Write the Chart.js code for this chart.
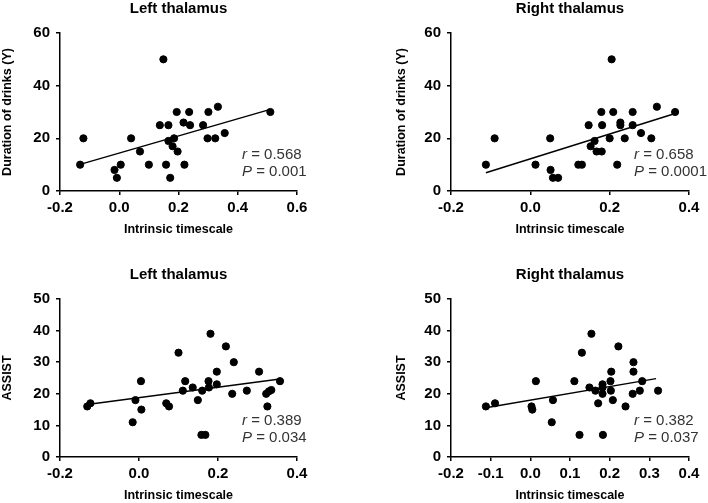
<!DOCTYPE html>
<html>
<head>
<meta charset="utf-8">
<script src="https://cdn.jsdelivr.net/npm/chart.js@4"></script>
<style>
  html, body { margin: 0; padding: 0; background: #fff; }
  body { width: 708px; height: 503px; overflow: hidden; position: relative; }
  canvas { position: absolute; }
</style>
</head>
<body>
<canvas id="c1" width="354" height="250" style="left:0;top:0"></canvas>
<canvas id="c2" width="354" height="250" style="left:354px;top:0"></canvas>
<canvas id="c3" width="354" height="250" style="left:0;top:266px"></canvas>
<canvas id="c4" width="354" height="250" style="left:354px;top:266px"></canvas>
<script>
// values
const leftDurX = [-0.132, -0.121, -0.016, -0.008, 0.005, 0.040, 0.070, 0.100, 0.137, 0.149, 0.158, 0.166, 0.166, 0.172, 0.180, 0.185, 0.194, 0.197, 0.217, 0.220, 0.236, 0.239, 0.283, 0.298, 0.301, 0.324, 0.333, 0.356, 0.510];
const leftDurY = [10, 20, 8, 5, 10, 20, 15, 10, 25, 50, 10, 25, 19, 5, 17, 20, 30, 15, 26, 10, 30, 25, 25, 20, 30, 20, 32, 22, 30];
const leftDurFitX = [-0.132, 0.510];
const leftDurFitY = [10.1, 31.0];

const rightDurX = [-0.112, -0.090, 0.013, 0.050, 0.051, 0.057, 0.070, 0.121, 0.130, 0.147, 0.152, 0.162, 0.167, 0.180, 0.179, 0.181, 0.200, 0.205, 0.209, 0.219, 0.227, 0.227, 0.238, 0.258, 0.258, 0.279, 0.305, 0.319, 0.365];
const rightDurY = [10, 20, 10, 20, 8, 5, 5, 10, 10, 25, 17, 19, 15, 15, 30, 25, 20, 50, 30, 10, 26, 25, 20, 30, 25, 22, 20, 32, 30];
const rightDurFitX = [-0.112, 0.365];
const rightDurFitY = [6.9, 29.4];

const leftAssistX = [-0.131, -0.123, -0.016, -0.009, 0.005, 0.006, 0.069, 0.076, 0.100, 0.111, 0.117, 0.136, 0.149, 0.158, 0.168, 0.160, 0.176, 0.177, 0.181, 0.197, 0.197, 0.220, 0.236, 0.240, 0.273, 0.304, 0.322, 0.325, 0.329, 0.335, 0.357];
const leftAssistY = [16, 17, 11, 18, 24, 15, 17, 16, 33, 21, 24, 22, 18, 7, 7, 21, 24, 22, 39, 27, 23, 35, 20, 30, 21, 27, 20, 16, 20.8, 21.2, 24];
const leftAssistFitX = [-0.131, 0.357];
const leftAssistFitY = [16.6, 24.7];

const rightAssistX = [-0.112, -0.089, 0.003, 0.005, 0.014, 0.054, 0.057, 0.111, 0.124, 0.130, 0.149, 0.154, 0.164, 0.171, 0.182, 0.182, 0.182, 0.183, 0.202, 0.204, 0.203, 0.208, 0.222, 0.240, 0.258, 0.260, 0.260, 0.276, 0.282, 0.322];
const rightAssistY = [16, 17, 16, 15, 24, 11, 18, 24, 7, 33, 22, 39, 21, 17, 23, 22, 20, 7, 24, 27, 21, 18, 35, 16, 20, 27, 30, 21, 24, 21];
const rightAssistFitX = [-0.112, 0.317];
const rightAssistFitY = [15.6, 24.8];

const durTicks = [0, 20, 40, 60];
const assistTicks = [0, 10, 20, 30, 40, 50];
const xTicksWide = [-0.2, 0.0, 0.2, 0.4, 0.6];
const xTicksShort = [-0.2, 0.0, 0.2, 0.4];
const xTicksFine = [-0.2, -0.1, 0.0, 0.1, 0.2, 0.3, 0.4];

const FONT = '"Liberation Sans", Arial, sans-serif';

function pts(xs, ys) {
    return xs.map((x, i) => ({ x: x, y: ys[i] }));
}

// panel title + r / P annotation, placed from the chart area
const panelText = {
    id: 'panelText',
    afterDraw(chart, args, opts) {
        const ctx = chart.ctx;
        const a = chart.chartArea;
        ctx.save();
        ctx.fillStyle = '#000';
        ctx.font = 'bold 15px ' + FONT;
        ctx.textAlign = 'center';
        ctx.textBaseline = 'middle';
        ctx.fillText(opts.title, (a.left + a.right) / 2, 8.5);

        ctx.fillStyle = '#333';
        ctx.textAlign = 'left';
        const x0 = a.right - 55;
        const lines = [['r', ' = ' + opts.r, a.bottom - 36], ['P', ' = ' + opts.p, a.bottom - 19]];
        lines.forEach(l => {
            ctx.font = 'italic 15px ' + FONT;
            ctx.fillText(l[0], x0, l[2]);
            const w = ctx.measureText(l[0]).width;
            ctx.font = '15px ' + FONT;
            ctx.fillText(l[1], x0 + w, l[2]);
        });
        ctx.restore();
    }
};

function makePanel(id, cfg) {
    const axisLine = { display: true, color: '#000', width: 1.5 };
    const grid = { display: true, drawOnChartArea: false, drawTicks: true, tickLength: 4, color: '#000', lineWidth: 1.5 };
    const tickFont = { family: FONT, size: 15, weight: 'bold' };

    new Chart(document.getElementById(id), {
        type: 'scatter',
        data: {
            datasets: [{
                data: pts(cfg.xs, cfg.ys),
                backgroundColor: '#000',
                borderColor: '#000',
                pointRadius: 3.6,
                pointHoverRadius: 3.6
            }, {
                data: pts(cfg.fitX, cfg.fitY),
                showLine: true,
                borderColor: '#000',
                borderWidth: 1.5,
                pointRadius: 0
            }]
        },
        options: {
            responsive: false,
            animation: false,
            layout: { padding: { top: 33, left: 0, bottom: 0, right: cfg.rightPad } },
            plugins: {
                legend: { display: false },
                tooltip: { enabled: false },
                panelText: { title: cfg.title, r: cfg.r, p: cfg.p }
            },
            scales: {
                x: {
                    type: 'linear',
                    min: cfg.xTicks[0],
                    max: cfg.xTicks[cfg.xTicks.length - 1],
                    afterBuildTicks: s => { s.ticks = cfg.xTicks.map(v => ({ value: v })); },
                    afterFit: s => { s.height = 59; },
                    border: axisLine,
                    grid: grid,
                    ticks: {
                        color: '#000', font: tickFont, padding: 4, maxRotation: 0,
                        callback: v => v.toFixed(1)
                    },
                    title: {
                        display: true, text: 'Intrinsic timescale', color: '#000',
                        font: { family: FONT, size: 12.5, weight: 'bold' },
                        padding: { top: 0, bottom: 13 }
                    }
                },
                y: {
                    type: 'linear',
                    min: cfg.yTicks[0],
                    max: cfg.yTicks[cfg.yTicks.length - 1],
                    afterBuildTicks: s => { s.ticks = cfg.yTicks.map(v => ({ value: v })); },
                    afterFit: s => { s.width = cfg.yWidth; },
                    border: axisLine,
                    grid: grid,
                    ticks: { color: '#000', font: tickFont, padding: 6 },
                    title: {
                        display: true, text: cfg.yTitle, color: '#000',
                        font: { family: FONT, size: 12.5, weight: 'bold' },
                        padding: { top: cfg.yTitlePad, bottom: 0 }
                    }
                }
            }
        },
        plugins: [panelText]
    });
}

makePanel('c1', {
    title: 'Left thalamus', yTitle: 'Duration of drinks (Y)', r: '0.568', p: '0.001',
    xs: leftDurX, ys: leftDurY, fitX: leftDurFitX, fitY: leftDurFitY,
    xTicks: xTicksWide, yTicks: durTicks, yWidth: 60, yTitlePad: 0, rightPad: 57
});
makePanel('c2', {
    title: 'Right thalamus', yTitle: 'Duration of drinks (Y)', r: '0.658', p: '0.0001',
    xs: rightDurX, ys: rightDurY, fitX: rightDurFitX, fitY: rightDurFitY,
    xTicks: xTicksShort, yTicks: durTicks, yWidth: 97, yTitlePad: 40, rightPad: 19
});
makePanel('c3', {
    title: 'Left thalamus', yTitle: 'ASSIST', r: '0.389', p: '0.034',
    xs: leftAssistX, ys: leftAssistY, fitX: leftAssistFitX, fitY: leftAssistFitY,
    xTicks: xTicksShort, yTicks: assistTicks, yWidth: 60, yTitlePad: 0, rightPad: 57
});
makePanel('c4', {
    title: 'Right thalamus', yTitle: 'ASSIST', r: '0.382', p: '0.037',
    xs: rightAssistX, ys: rightAssistY, fitX: rightAssistFitX, fitY: rightAssistFitY,
    xTicks: xTicksFine, yTicks: assistTicks, yWidth: 97, yTitlePad: 40, rightPad: 19
});
</script>
</body>
</html>
